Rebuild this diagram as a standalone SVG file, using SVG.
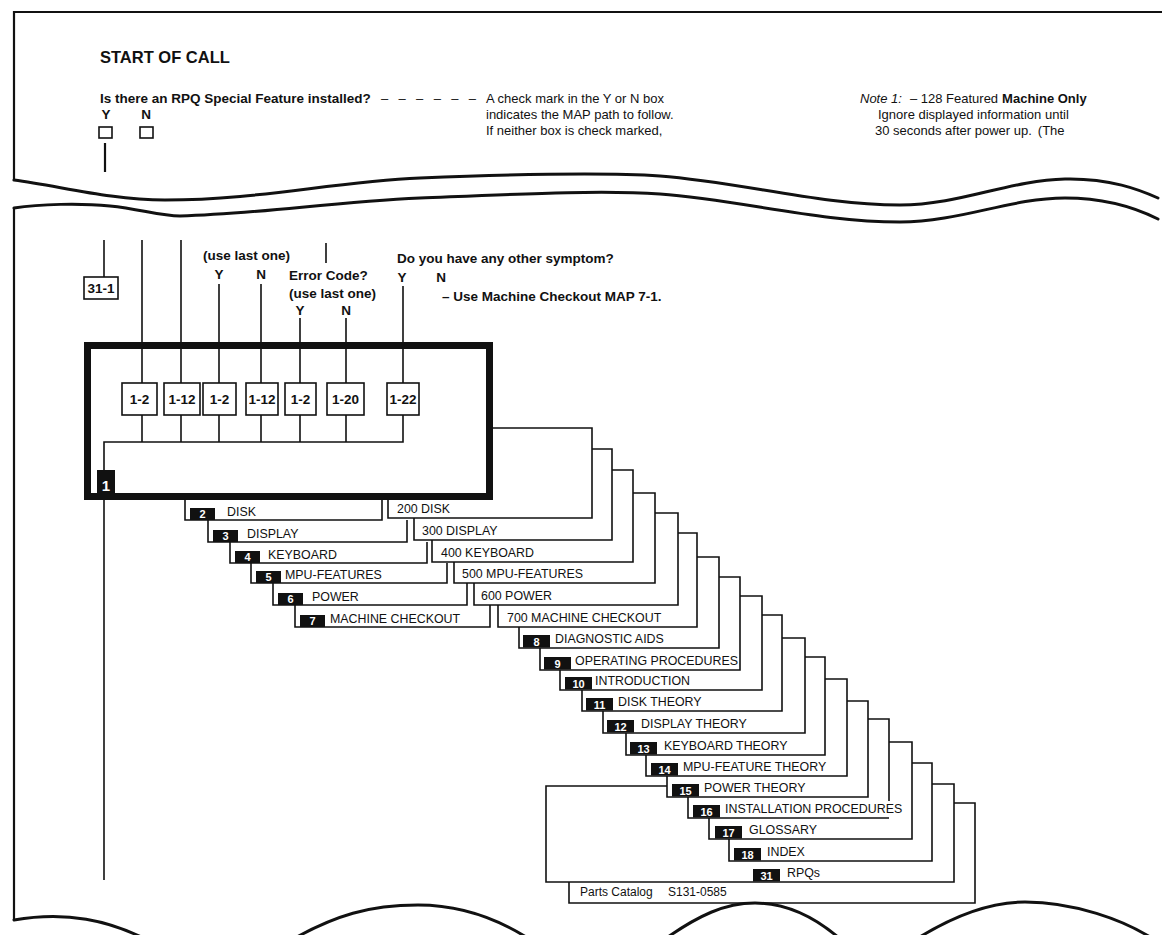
<svg xmlns="http://www.w3.org/2000/svg" width="1162" height="935" viewBox="0 0 1162 935">
<style>
text { font-family: "Liberation Sans", Arial, sans-serif; fill: #111; }
.b { font-weight: bold; }
.q { font-size: 13.5px; font-weight: bold; }
.t { font-size: 13px; }
.lab { font-size: 12.4px; }
.num { font-size: 11px; font-weight: bold; fill: #fff; text-anchor: middle; }
.bn { font-size: 13.5px; font-weight: bold; text-anchor: middle; }
.mid { text-anchor: middle; }
.ln { fill: none; stroke: #111; stroke-width: 1.6; }
.brd { fill: none; stroke: #111; stroke-width: 2.2; }
.wave { fill: none; stroke: #111; stroke-width: 3; stroke-linecap: round; }
.blk { fill: #111; }
.bx { fill: #fff; stroke: #111; stroke-width: 1.6; }
</style>
<rect width="1162" height="935" fill="#fff"/>

<g id="frame">
<path class="brd" d="M14,181 V12 H1162"/>
<path class="brd" d="M14,208 V920"/>
<path class="wave" d="M14,180 C60,186 110,200 165,200 C260,200 330,182 420,178 C520,174 600,172 660,176 C740,182 820,205 900,205 C960,205 1010,180 1065,179 C1110,178 1140,190 1158,198"/>
<path class="wave" d="M14,208 C40,204 80,203 110,206 C140,209 160,216 180,216 C260,214 330,202 420,198 C520,194 600,190 660,194 C740,200 820,222 900,222 C960,222 1010,198 1065,198 C1110,198 1140,210 1158,219"/>
<path class="wave" d="M14,920 C60,912 110,916 165,950"/>
<path class="wave" d="M275,950 C335,912 375,905 418,905 C462,905 505,920 545,950"/>
<path class="wave" d="M650,950 C700,912 728,903 755,903 C790,903 822,920 852,950"/>
<path class="wave" d="M900,950 C950,915 990,902 1025,902 C1070,902 1125,918 1162,945"/>
</g>

<g id="start">
<text class="b" x="100" y="63" font-size="16.5">START OF CALL</text>
<text class="q" x="100" y="103">Is there an RPQ Special Feature installed?</text>
<text class="t" x="381" y="103" textLength="95">– – – – – –</text>
<text class="q mid" x="106" y="119">Y</text>
<text class="q mid" x="146" y="119">N</text>
<rect class="bx" x="99" y="127" width="13" height="11"/>
<rect class="bx" x="140" y="127" width="13" height="11"/>
</g>

<g id="note-check">
<text class="t" x="486" y="103">A check mark in the Y or N box</text>
<text class="t" x="486" y="119">indicates the MAP path to follow.</text>
<text class="t" x="486" y="135">If neither box is check marked,</text>
</g>

<g id="note-1">
<text class="t" x="860" y="103"><tspan font-style="italic">Note 1:</tspan><tspan dx="8">– 128 Featured</tspan><tspan class="b" dx="4">Machine Only</tspan></text>
<text class="t" x="878" y="119">Ignore displayed information until</text>
<text class="t" x="875" y="135">30 seconds after power up.<tspan dx="6">(The</tspan></text>
</g>

<g id="questions">
<text class="q" x="203" y="260" font-size="13">(use last one)</text>
<text class="q mid" x="219" y="279">Y</text>
<text class="q mid" x="261" y="279">N</text>
<text class="q" x="289" y="280" font-size="13">Error Code?</text>
<text class="q" x="289" y="298" font-size="13">(use last one)</text>
<text class="q mid" x="300" y="315">Y</text>
<text class="q mid" x="346" y="315">N</text>
<text class="q" x="397" y="263" font-size="13.7">Do you have any other symptom?</text>
<text class="q mid" x="402" y="282">Y</text>
<text class="q mid" x="441" y="282">N</text>
<text class="q" x="442" y="301" font-size="13.7">– Use Machine Checkout MAP 7-1.</text>
</g>

<g id="connectors">
<path class="brd" d="M105,143 V172"/>
<path class="ln" d="M104,240 V277"/>
<path class="ln" d="M142,240 V383 M181,240 V383 M219,284 V383 M261,284 V383 M326,243 V263 M300,318 V383 M346,318 V383 M403,286 V383"/>
<path class="ln" d="M142,415 V442 M181,415 V442 M219,415 V442 M261,415 V442 M300,415 V442 M346,415 V442"/>
<path class="ln" d="M403,415 V442 H104 V880"/>
</g>

<g id="box-31-1">
<rect class="bx" x="84" y="277" width="34" height="22"/>
<text class="bn" x="101" y="293">31-1</text>
</g>

<g id="map-1">
<rect x="87.5" y="345.5" width="402" height="151" fill="none" stroke="#111" stroke-width="7"/>
<rect class="blk" x="97" y="470" width="18" height="27"/>
<text class="b" x="106" y="491" font-size="15" text-anchor="middle" style="fill:#fff">1</text>
</g>

<g id="goto-boxes">
<rect class="bx" x="122" y="383" width="35" height="32"/><text class="bn" x="139.5" y="404">1-2</text>
<rect class="bx" x="164" y="383" width="36" height="32"/><text class="bn" x="182" y="404">1-12</text>
<rect class="bx" x="203" y="383" width="33" height="32"/><text class="bn" x="219.5" y="404">1-2</text>
<rect class="bx" x="246" y="383" width="32" height="32"/><text class="bn" x="262" y="404">1-12</text>
<rect class="bx" x="285" y="383" width="31" height="32"/><text class="bn" x="300.5" y="404">1-2</text>
<rect class="bx" x="327" y="383" width="37" height="32"/><text class="bn" x="345.5" y="404">1-20</text>
<rect class="bx" x="387" y="383" width="32" height="32"/><text class="bn" x="403" y="404">1-22</text>
</g>

<g id="chapter-tabs">
<g id="tab-2"><path class="ln" d="M185,499 V520 H382 V499"/><rect class="blk" x="190" y="508" width="25" height="12"/><text class="num" x="202.5" y="518">2</text><text class="lab" x="227" y="516">DISK</text></g>
<g id="tab-3"><path class="ln" d="M208,520 V542 H407 V520"/><rect class="blk" x="213" y="530" width="25" height="12"/><text class="num" x="225.5" y="540">3</text><text class="lab" x="247" y="538">DISPLAY</text></g>
<g id="tab-4"><path class="ln" d="M230,542 V563 H427 V542"/><rect class="blk" x="235" y="551" width="25" height="12"/><text class="num" x="247.5" y="561">4</text><text class="lab" x="268" y="559">KEYBOARD</text></g>
<g id="tab-5"><path class="ln" d="M251,563 V583 H447 V563"/><rect class="blk" x="256" y="571" width="25" height="12"/><text class="num" x="268.5" y="581">5</text><text class="lab" x="285" y="579">MPU-FEATURES</text></g>
<g id="tab-6"><path class="ln" d="M273,583 V605 H467 V583"/><rect class="blk" x="278" y="593" width="25" height="12"/><text class="num" x="290.5" y="603">6</text><text class="lab" x="312" y="601">POWER</text></g>
<g id="tab-7"><path class="ln" d="M295,605 V627 H490 V605"/><rect class="blk" x="300" y="615" width="25" height="12"/><text class="num" x="312.5" y="625">7</text><text class="lab" x="330" y="623">MACHINE CHECKOUT</text></g>
</g>

<g id="section-tabs">
<g id="s-200"><path class="ln" d="M388,499 V518 H592 V428 H493"/><text class="lab" x="397" y="513">200 DISK</text></g>
<g id="s-300"><path class="ln" d="M414,518 V540 H612 V449 H592"/><text class="lab" x="422" y="535">300 DISPLAY</text></g>
<g id="s-400"><path class="ln" d="M432,540 V562 H633 V470 H612"/><text class="lab" x="441" y="557">400 KEYBOARD</text></g>
<g id="s-500"><path class="ln" d="M454,562 V583 H655 V493 H633"/><text class="lab" x="462" y="578">500 MPU-FEATURES</text></g>
<g id="s-600"><path class="ln" d="M474,583 V605 H678 V513 H655"/><text class="lab" x="481" y="600">600 POWER</text></g>
<g id="s-700"><path class="ln" d="M498,605 V627 H697 V533 H678"/><text class="lab" x="507" y="622">700 MACHINE CHECKOUT</text></g>
<g id="s-8"><path class="ln" d="M519,627 V648 H719 V557 H697"/><rect class="blk" x="523" y="635" width="27" height="12.5"/><text class="num" x="536.5" y="646">8</text><text class="lab" x="555" y="643">DIAGNOSTIC AIDS</text></g>
<g id="s-9"><path class="ln" d="M540,648 V670 H740 V577 H719"/><rect class="blk" x="544" y="657" width="27" height="12.5"/><text class="num" x="557.5" y="668">9</text><text class="lab" x="575" y="665">OPERATING PROCEDURES</text></g>
<g id="s-10"><path class="ln" d="M560,670 V690 H762 V596 H740"/><rect class="blk" x="565" y="677" width="27" height="12.5"/><text class="num" x="578.5" y="688">10</text><text class="lab" x="595" y="685">INTRODUCTION</text></g>
<g id="s-11"><path class="ln" d="M582,690 V711 H782 V615 H762"/><rect class="blk" x="586" y="698" width="27" height="12.5"/><text class="num" x="599.5" y="709">11</text><text class="lab" x="618" y="706">DISK THEORY</text></g>
<g id="s-12"><path class="ln" d="M603,711 V733 H805 V638 H782"/><rect class="blk" x="607" y="720" width="27" height="12.5"/><text class="num" x="620.5" y="731">12</text><text class="lab" x="641" y="728">DISPLAY THEORY</text></g>
<g id="s-13"><path class="ln" d="M626,733 V755 H825 V657 H805"/><rect class="blk" x="630" y="742" width="27" height="12.5"/><text class="num" x="643.5" y="753">13</text><text class="lab" x="664" y="750">KEYBOARD THEORY</text></g>
<g id="s-14"><path class="ln" d="M646,755 V776 H847 V679 H825"/><rect class="blk" x="651" y="763" width="27" height="12.5"/><text class="num" x="664.5" y="774">14</text><text class="lab" x="683" y="771">MPU-FEATURE THEORY</text></g>
<g id="s-15"><path class="ln" d="M667,776 V797 H868 V701 H847"/><rect class="blk" x="672" y="784" width="27" height="12.5"/><text class="num" x="685.5" y="795">15</text><text class="lab" x="704" y="792">POWER THEORY</text></g>
<g id="s-16"><path class="ln" d="M688,797 V818 H889 M889,801 V719 H868"/><rect class="blk" x="693" y="805" width="27" height="12.5"/><text class="num" x="706.5" y="816">16</text><text class="lab" x="725" y="813">INSTALLATION PROCEDURES</text></g>
<g id="s-17"><path class="ln" d="M709,818 V839 H912 V742 H889"/><rect class="blk" x="715" y="826" width="27" height="12.5"/><text class="num" x="728.5" y="837">17</text><text class="lab" x="749" y="834">GLOSSARY</text></g>
<g id="s-18"><path class="ln" d="M729,839 V861 H932 V763 H912"/><rect class="blk" x="734" y="848" width="27" height="12.5"/><text class="num" x="747.5" y="859">18</text><text class="lab" x="767" y="856">INDEX</text></g>
<g id="s-31"><path class="ln" d="M667,786 H546 V882 H954 V784 H932"/><rect class="blk" x="753" y="869" width="27" height="12.5"/><text class="num" x="766.5" y="880">31</text><text class="lab" x="787" y="877">RPQs</text></g>
<g id="parts"><path class="ln" d="M569,882 V903 H975 V803 H954"/><text x="580" y="896" font-size="12">Parts Catalog</text><text x="668" y="896" font-size="12">S131-0585</text></g>
</g>
</svg>
